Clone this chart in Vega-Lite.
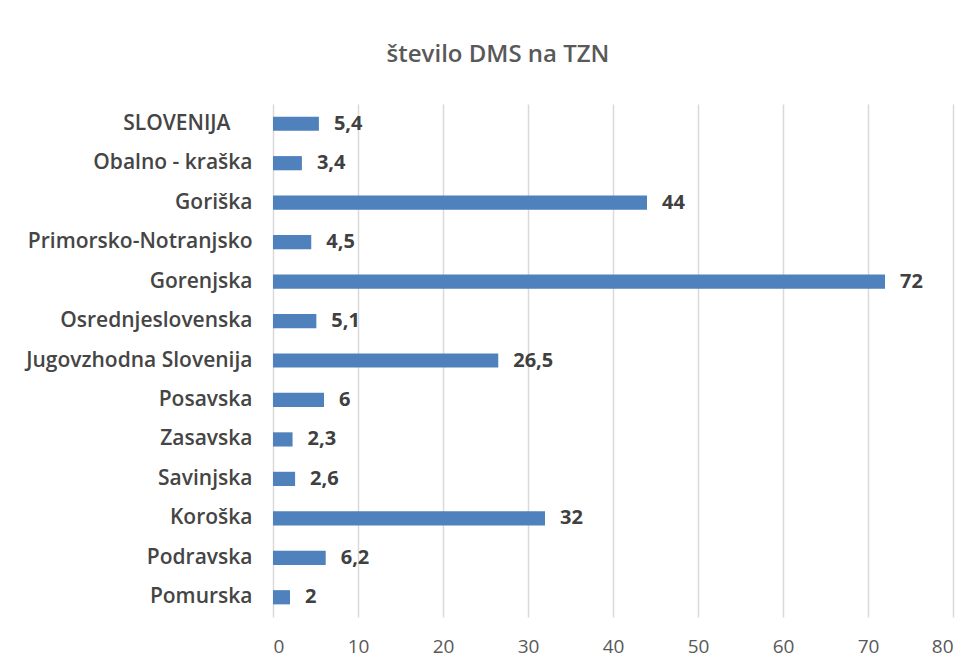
{
  "$schema": "https://vega.github.io/schema/vega-lite/v6.json",
  "width": 680,
  "height": 513,
  "autosize": {"type": "none"},
  "padding": {"left": 273, "top": 104, "right": 27, "bottom": 53},
  "background": "white",
  "config": {
    "view": {"stroke": null},
    "font": "Open Sans",
    "locale": {"number": {"decimal": ",", "thousands": ".", "grouping": [3], "currency": ["", " €"]}}
  },
  "title": {
    "text": "število DMS na TZN",
    "fontSize": 24,
    "fontWeight": 600,
    "color": "#595959",
    "anchor": "middle",
    "dx": -115,
    "offset": 37
  },
  "data": {
    "values": [
      {"region": "SLOVENIJA", "value": 5.4},
      {"region": "Obalno - kraška", "value": 3.4},
      {"region": "Goriška", "value": 44},
      {"region": "Primorsko-Notranjsko", "value": 4.5},
      {"region": "Gorenjska", "value": 72},
      {"region": "Osrednjeslovenska", "value": 5.1},
      {"region": "Jugovzhodna Slovenija", "value": 26.5},
      {"region": "Posavska", "value": 6},
      {"region": "Zasavska", "value": 2.3},
      {"region": "Savinjska", "value": 2.6},
      {"region": "Koroška", "value": 32},
      {"region": "Podravska", "value": 6.2},
      {"region": "Pomurska", "value": 2}
    ]
  },
  "encoding": {
    "y": {
      "field": "region",
      "type": "nominal",
      "sort": null,
      "scale": {"paddingInner": 0.64, "paddingOuter": 0.32},
      "axis": {
        "title": null,
        "domain": false,
        "ticks": false,
        "tickSize": 0,
        "labelPadding": {"condition": {"test": "datum.value === 'SLOVENIJA'", "value": 43}, "value": 21},
        "labelFontSize": 21,
        "labelFontWeight": 600,
        "labelColor": "#454545",
        "labelLimit": 400
      }
    },
    "x": {
      "field": "value",
      "type": "quantitative",
      "scale": {"domain": [0, 80], "nice": false},
      "axis": {
        "title": null,
        "values": [0, 10, 20, 30, 40, 50, 60, 70, 80],
        "domain": false,
        "ticks": false,
        "tickSize": 0,
        "labelPadding": 20,
        "labelFontSize": 19,
        "labelColor": "#595959",
        "labelBaseline": "top",
        "grid": true,
        "gridColor": "#d9d9d9",
        "gridWidth": 1.5
      }
    }
  },
  "layer": [
    {"mark": {"type": "bar", "color": "#4F81BD"}},
    {
      "mark": {"type": "text", "align": "left", "baseline": "middle", "dx": 15, "fontSize": 20, "fontWeight": "bold", "color": "#404040"},
      "encoding": {"text": {"field": "value", "type": "quantitative", "format": ".1~f"}}
    }
  ]
}
